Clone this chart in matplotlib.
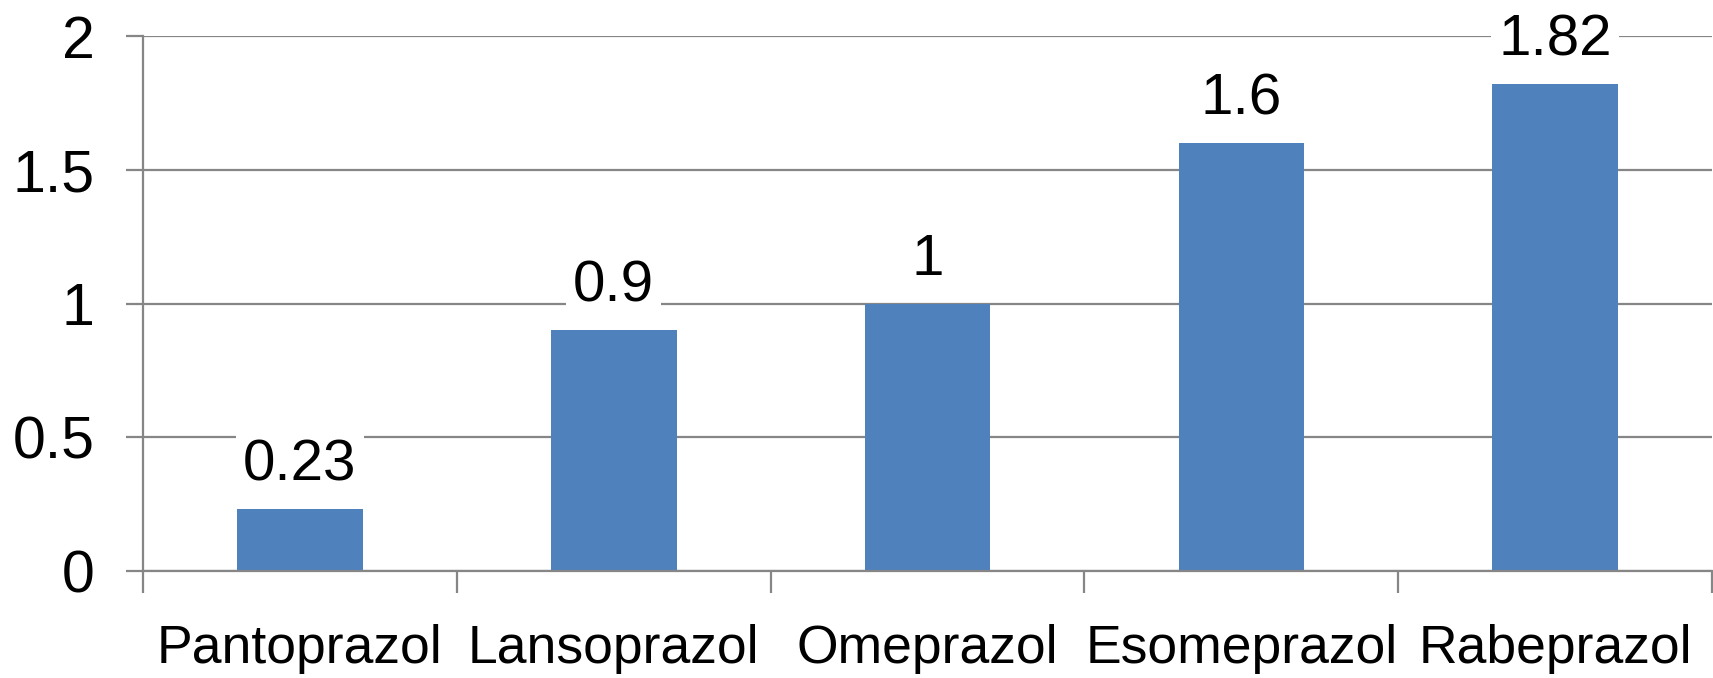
import matplotlib
matplotlib.use("Agg")
import matplotlib.pyplot as plt
import numpy as np

categories = ["Pantoprazol", "Lansoprazol", "Omeprazol", "Esomeprazol", "Rabeprazol"]
values = [0.23, 0.9, 1.0, 1.6, 1.82]
value_labels = ["0.23", "0.9", "1", "1.6", "1.82"]
yticks = [0, 0.5, 1, 1.5, 2]
ytick_labels = ["0", "0.5", "1", "1.5", "2"]

plt.rcParams['font.family'] = ['Liberation Sans', 'DejaVu Sans']

fig = plt.figure(figsize=(17.13, 6.78), dpi=100)
ax = fig.add_axes([143/1713, 107/678, 1 - 143/1713 - 0.0005, (571-36)/678])

grid_color = "#868686"
bar_color = "#4F81BD"

x = np.arange(len(categories))
ax.bar(x, values, width=0.4, color=bar_color, zorder=2)

ax.set_xlim(-0.5, len(categories) - 0.5)
ax.set_ylim(0, 2)
ax.set_yticks(yticks)
ax.set_yticklabels(ytick_labels, fontsize=42.5, va='center_baseline')
ax.yaxis.grid(True, color=grid_color, linewidth=1.6, zorder=0)
ax.set_axisbelow(True)

ax.set_xticks(x)
ax.set_xticklabels(categories, fontsize=38.5)
ax.set_xticks(np.arange(len(categories) + 1) - 0.5, minor=True)
ax.tick_params(axis='x', which='major', length=0, pad=38)
ax.tick_params(axis='x', which='minor', length=16, width=1.6, color=grid_color, direction='out')
ax.tick_params(axis='y', which='major', length=12, width=1.6, color=grid_color, direction='out', pad=23)

for s in ['top', 'right']:
    ax.spines[s].set_visible(False)
for s in ['left', 'bottom']:
    ax.spines[s].set_color(grid_color)
    ax.spines[s].set_linewidth(1.6)

for xi, v, lab in zip(x, values, value_labels):
    ax.annotate(lab, (xi, v), xytext=(0, 12), textcoords='offset points',
                ha='center', va='bottom', fontsize=42, zorder=3,
                bbox=dict(boxstyle='square,pad=0.12', facecolor='white', edgecolor='none'))

fig.savefig("out.png", dpi=100)
